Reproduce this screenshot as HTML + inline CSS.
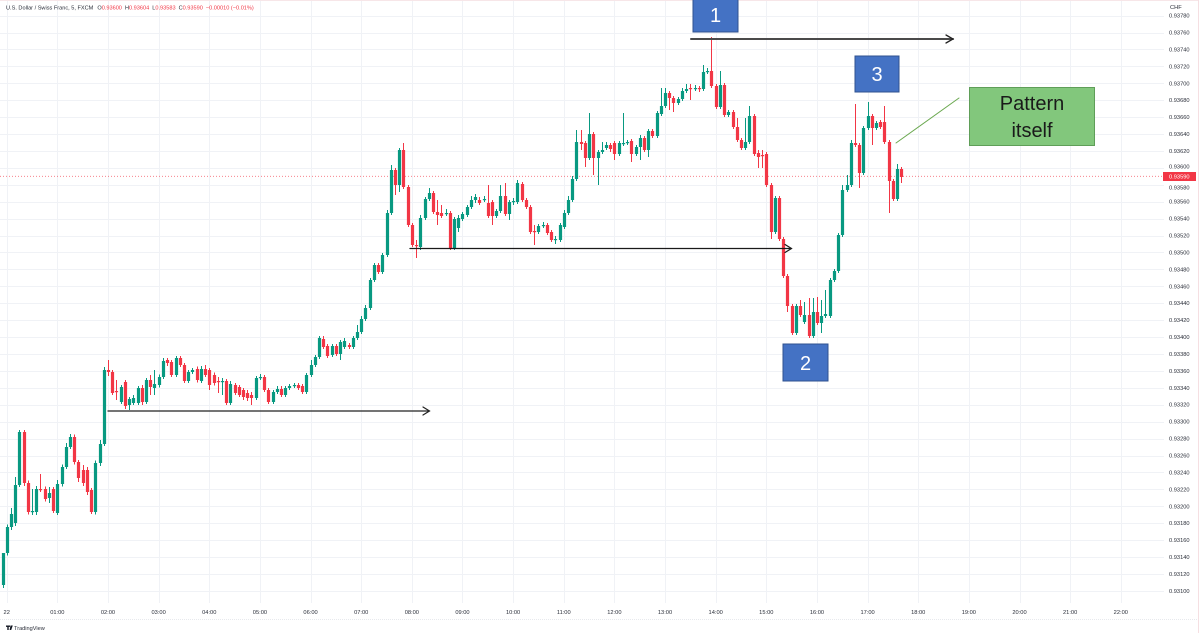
<!DOCTYPE html>
<html>
<head>
<meta charset="utf-8">
<style>
html,body{margin:0;padding:0;background:#fff;}
body{width:1200px;height:633px;overflow:hidden;position:relative;font-family:"Liberation Sans",sans-serif;}
svg{display:block;position:absolute;left:0;top:0;}
</style>
</head>
<body>
<svg id="c" width="1200" height="633" viewBox="0 0 1200 633" xmlns="http://www.w3.org/2000/svg">
<rect x="0" y="0" width="1200" height="633" fill="#ffffff"/>
<g id="grid"></g>
<g id="axis" font-family="Liberation Sans, sans-serif" font-size="5.7" fill="#2a2e39"></g>
<line x1="0" y1="176.3" x2="1163" y2="176.3" stroke="#f23645" stroke-width="0.8" stroke-dasharray="1,2" opacity="0.7"/>
<g id="candles"></g>
<!-- header -->
<text x="6" y="9.5" font-family="Liberation Sans, sans-serif" font-size="5.6" fill="#2a2e39">U.S. Dollar / Swiss Franc, 5, FXCM<tspan dx="4">O</tspan><tspan fill="#f23645">0.93600</tspan><tspan dx="3">H</tspan><tspan fill="#f23645">0.93604</tspan><tspan dx="3">L</tspan><tspan fill="#f23645">0.93583</tspan><tspan dx="3">C</tspan><tspan fill="#f23645">0.93590</tspan><tspan dx="3" fill="#f23645">−0.00010 (−0.01%)</tspan></text>
<!-- current price label -->
<rect x="1163" y="172" width="33" height="9" fill="#f23645"/>
<text x="1169" y="178.4" font-family="Liberation Sans, sans-serif" font-size="5.7" fill="#ffffff">0.93590</text>
<!-- bottom -->
<line x1="0" y1="619.5" x2="1198" y2="619.5" stroke="#dfe2e8" stroke-width="0.8" stroke-dasharray="1,1"/>
<g fill="#131722">
<rect x="6" y="625.5" width="4" height="1.4"/>
<rect x="7.3" y="625.5" width="1.4" height="4.5"/>
<polygon points="10.5,625.5 12.8,625.5 11.2,630 9.6,630"/>
</g>
<text x="14" y="630" font-family="Liberation Sans, sans-serif" font-size="5.6" fill="#2a2e39">TradingView</text>
<line x1="1198.5" y1="0" x2="1198.5" y2="633" stroke="#f5dfe2" stroke-width="1"/>
<line x1="0" y1="0.5" x2="1198" y2="0.5" stroke="#f7e6e8" stroke-width="1"/>
<!-- arrows -->
<g fill="none" stroke-linecap="round">
<line x1="691" y1="39" x2="953" y2="39" stroke="#4a4a4a" stroke-width="2"/>
<polyline points="946,35 953,39 946,43" stroke="#222" stroke-width="1.3"/>
<line x1="410" y1="248.5" x2="791" y2="248.5" stroke="#1a1a1a" stroke-width="1.3"/>
<polyline points="785,244.5 791.5,248.5 785,252.5" stroke="#1a1a1a" stroke-width="1.2"/>
<line x1="108" y1="411" x2="429" y2="411" stroke="#222" stroke-width="1.3"/>
<polyline points="423,407 429.5,411 423,415" stroke="#222" stroke-width="1.2"/>
<line x1="896" y1="143" x2="959" y2="98" stroke="#6aa84f" stroke-width="1"/>
</g>
<!-- number boxes -->
<g font-family="Liberation Sans, sans-serif" font-size="20" fill="#ffffff" text-anchor="middle">
<rect x="693" y="-2" width="45" height="34" fill="#4472c4" stroke="#2f528f" stroke-width="1"/>
<text x="715.5" y="22">1</text>
<rect x="855" y="56" width="44" height="36" fill="#4472c4" stroke="#2f528f" stroke-width="1"/>
<text x="877" y="81">3</text>
<rect x="783" y="344" width="45" height="37" fill="#4472c4" stroke="#2f528f" stroke-width="1"/>
<text x="805.5" y="370">2</text>
</g>
<rect x="969.5" y="87.5" width="125" height="58" fill="#82c77c" stroke="#5f9e58" stroke-width="1"/>
<g font-family="Liberation Sans, sans-serif" font-size="20" fill="#1a1a1a" text-anchor="middle">
<text x="1032" y="110">Pattern</text>
<text x="1032" y="137">itself</text>
</g>
</svg>
<script>
(function(){
var NS="http://www.w3.org/2000/svg";
function el(n,a,p){var e=document.createElementNS(NS,n);for(var k in a)e.setAttribute(k,a[k]);p.appendChild(e);return e;}
var grid=document.getElementById('grid'),axis=document.getElementById('axis'),cg=document.getElementById('candles');
// vertical grid
for(var h=0;h<=22;h++){var x=6.7+50.64*h;x=Math.round(x)+0.5;
 el('line',{x1:x,y1:0,x2:x,y2:603,stroke:'#f0f2f6','stroke-width':1},grid);
 var t=el('text',{x:6.7+50.64*h,y:614,'text-anchor':'middle'},axis);
 t.textContent=h==0?'22':((h<10?'0':'')+h+':00');
}
// horizontal grid + price labels
for(var k=-1;k<=33;k++){var y=32.5+16.92*k;var yy=Math.round(y)+0.5;
 el('line',{x1:0,y1:yy,x2:1164,y2:yy,stroke:'#f0f2f6','stroke-width':1},grid);
 var p=(0.93760-0.0002*k).toFixed(5);
 if(k==8||k==9) { if(k==8){var t2=el('text',{x:1169,y:y+0.5},axis);t2.textContent=p;} else {var t3=el('text',{x:1169,y:y+4.5},axis);t3.textContent=p;} continue;}
 var t=el('text',{x:1169,y:y+2},axis);t.textContent=p;
}
var c=el('text',{x:1170,y:9},axis);c.textContent='CHF';
var D=[[585,553,553,588],[553,527],[527,514,508,530],[523,485,477,526],[485,432,430,487],[432,483,430,486],[483,512],[512,511,489,515],[512,489,486,515],[489,490,474,492],[489,499],[498,493,487,503],[489,511,487,513],[513,484,480,515],[484,467],[467,447,443,469],[447,437,434,449],[437,462],[462,478,460,482],[470,483,465,486],[470,492,467,495],[490,512,488,514],[512,463],[463,444,440,466],[444,370,367,446],[370,372,360,376],
[372,393,370,395],[391,392,380,400],[402,387,385,404],[382,406,380,409],[405,399,397,410],[403,398,395,405],[403,388,386,405],[388,402,385,405],[402,380,378,404],[380,387,375,395],[388,384,370,395],[385,377],[377,361,358,379],[360,363,358,366],[362,375,360,377],[375,358,356,377],[358,365,356,367],[365,381,363,383],[381,372,370,383],[372,370,368,374],[369,380],
[381,369,366,383],[369,375,365,377],[370,385,368,390],[375,383],[381,382,377,393],[382,381,378,395],[381,403,379,405],[403,384,381,405],[385,393,383,395],[387,395,385,397],[390,397,388,400],[393,398,390,401],[395,398,392,405],[398,378,376,400],[378,377,374,380],[377,390,375,392],[390,402,388,404],[402,392,390,404],[392,389,386,394],[389,395,386,397],[395,388,386,397],[388,386,384,390],[386,385,383,388],[385,388,383,390],[386,392,384,394],[392,375,373,394],[375,365,360,377],[365,357,355,367],[357,338,336,359],[339,347,336,349],[346,356,344,358],[355,346,344,357],[346,354,344,356],[354,342,340,360],[347,341,338,349],[345,347,343,349],[347,338,336,349],[338,332,325,340],[332,319,316,334],[319,308,305,321],[308,280,278,310],[280,265,263,282],[265,272,263,274],[272,255,253,274],[255,213,210,257],[213,170,165,215],[170,185,168,195],[185,150,148,192],[150,187,143,189],[187,225,185,227],[225,245,223,247],[245,246,240,258],[247,218,215,250],[218,199,197,220],[199,193,188,201],[193,212,191,214],[212,215,200,225],
[213,216,205,218],[214,213,209,216],[213,248,211,250],[248,219,217,250],[228,218,215,232],[219,214,212,221],[215,207,205,217],[207,200,196,209],[200,197,194,203],[200,203,197,205],[200,199,196,202],[203,216,185,218],[202,216,200,225],[216,211,209,218],[211,196,185,213],[196,214,183,216],[214,202,200,220],[202,201,198,205],[202,183,180,204],[184,200,182,202],[200,207,198,209],[207,232,205,234],[231,232,225,245],[232,226,224,234],[226,225,222,228],[225,233,223,235],[232,240,230,242],[240,239,236,244],[240,225,223,242],[227,213,210,229],[213,200,196,215],[200,179,176,202],[179,142,130,181],[142,144,130,150],[143,158,141,167],[158,134,113,160],[134,158,132,175],[158,152,150,185],[152,150,142,154],[148,145,142,150],[145,149,143,152],[143,154,141,160],[154,143,141,156],[144,143,113,146],[143,142,140,145],[141,154,139,162],[154,147,145,156],[147,138,135,160],[138,150,136,152],[150,131,129,157],[131,136,129,138],[136,113,111,138],[114,106,88,116],[106,93,88,108],[93,98,91,110],[98,103,96,112],[103,99,97,105],[99,91,88,101],[91,89,84,93],[88,89,84,100],[89,88,85,91],[88,89,86,92],[89,72,65,91],[72,71,68,74],[71,86,37,88],[86,107,84,109],
[107,85,71,109],[85,115,83,117],[115,112,110,117],[112,127,110,129],[127,140,118,142],[140,148,138,150],[148,142,118,150],[142,116,106,144],[116,154,114,156],[153,157,150,168],[155,156,150,168],[154,185,152,187],[185,232,183,239],[232,198,196,234],[198,239,196,241],[239,276,237,278],[276,306,274,312],[306,333,304,335],[333,306,304,335],[306,315,300,317],[322,315,302,324],[315,336,298,338],[336,312,298,338],[312,323,297,325],[323,316,300,333],[316,314,290,318],[316,280,278,318],[280,271,269,282],[271,235,233,273],[235,190,185,237],[190,185,175,192],[185,143,140,187],[143,145,104,147],[145,173,143,188],[173,128,126,175],[128,116,102,130],[116,128,114,145],[128,123,121,130],[122,127,120,129],[122,142,106,144],[142,181,140,213],[181,199,179,201],[199,169,164,201],[169,177,167,183]];
for(var i=0;i<D.length;i++){
 var d=D[i],o=d[0],cl=d[1];
 var hi=d.length>2?d[2]:Math.min(o,cl)-2.5, lo=d.length>3?d[3]:Math.max(o,cl)+2.5;
 var x=2.5+4.22*i;
 var col=(cl>o)?'#f23645':'#089981';
 var xw=Math.round(x)+0.5;
 el('line',{x1:xw,y1:hi,x2:xw,y2:lo,stroke:col,'stroke-width':1},cg);
 var top=Math.min(o,cl),hgt=Math.max(1.2,Math.abs(o-cl));
 el('rect',{x:xw-1.6,y:top,width:3.2,height:hgt,fill:col},cg);
}
})();
</script>
</body>
</html>
